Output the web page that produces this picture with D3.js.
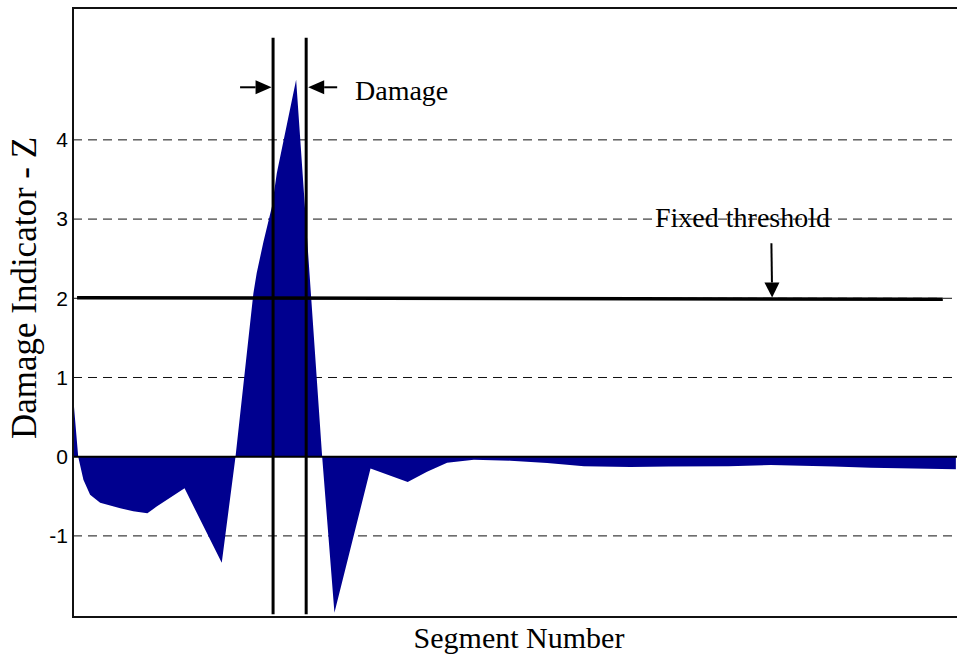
<!DOCTYPE html>
<html>
<head>
<meta charset="utf-8">
<script src="https://cdn.jsdelivr.net/npm/d3@7"></script>
<style>
  html, body { margin: 0; padding: 0; background: #fff; }
  svg { display: block; }
</style>
</head>
<body>
<svg id="chart" width="957" height="658"></svg>
<script>
// Damage indicator Z along the segment number
const segments = [0, 0.14, 0.28, 0.46, 0.73, 1.27, 1.62, 2.00, 2.25, 3.00, 4.00, 4.37,
  4.85, 4.94, 5.12, 5.35, 5.48, 6.00, 6.70, 7.03, 8.00, 9.00, 9.52, 10.06, 10.78,
  11.76, 12.75, 13.74, 14.99, 16.02, 17.63, 18.76, 20.46, 21.45, 23.74];
const zValues = [0.78, 0, -0.29, -0.48, -0.58, -0.65, -0.69, -0.715, -0.63, -0.40, -1.34, 0,
  2.06, 2.32, 2.71, 3.16, 3.58, 4.76, 0, -1.97, -0.15, -0.32, -0.19, -0.076, -0.04,
  -0.05, -0.08, -0.12, -0.13, -0.125, -0.12, -0.105, -0.125, -0.14, -0.16];

const yTicks = [-1, 0, 1, 2, 3, 4];
const yTickLabels = ["-1", "0", "1", "2", "3", "4"];
const gridValues = [-1, 1, 2, 3, 4];

// fixed threshold line (start and end points)
const thresholdSeg = [0.11, 23.39];
const thresholdZ = [2.007, 1.987];

// damaged zone bounds
const damageSeg = [5.38, 6.27];
const damageZ = [5.29, -1.99];

const xLabel = "Segment Number";
const yLabel = "Damage Indicator - Z";
const damageLabel = "Damage";
const thresholdLabel = "Fixed threshold";

const svg = d3.select("#chart");
const plotLeft = 73, plotRight = 956.6, plotTop = 8, plotBottom = 617;

const x = d3.scaleLinear().domain([0, 23.76]).range([plotLeft, plotRight]);
const y = d3.scaleLinear().domain([-2.024, 5.665]).range([plotBottom, plotTop]);

const data = segments.map((s, i) => ({ s, z: zValues[i] }));

// dashed grid
svg.append("g").selectAll("line").data(gridValues).join("line")
  .attr("x1", plotLeft).attr("x2", 957)
  .attr("y1", d => y(d)).attr("y2", d => y(d))
  .attr("stroke", "#111").attr("stroke-width", 1)
  .attr("stroke-dasharray", "9,6");

// filled area between zero and the indicator
const area = d3.area()
  .x(d => x(d.s))
  .y0(y(0))
  .y1(d => y(d.z))
  .curve(d3.curveLinear);

svg.append("path").datum(data)
  .attr("d", area)
  .attr("fill", "#00008f");

// zero line
svg.append("line")
  .attr("x1", plotLeft).attr("x2", 957)
  .attr("y1", y(0)).attr("y2", y(0))
  .attr("stroke", "#000").attr("stroke-width", 2);

// frame
svg.append("path")
  .attr("d", `M957,${plotTop}H${plotLeft}V${plotBottom}H957`)
  .attr("fill", "none").attr("stroke", "#111").attr("stroke-width", 2);

// y axis ticks
const yAxis = d3.axisLeft(y).tickValues(yTicks).tickSize(0).tickPadding(5)
  .tickFormat((d, i) => yTickLabels[i]);
const gy = svg.append("g").attr("transform", `translate(${plotLeft},0)`).call(yAxis);
gy.select(".domain").remove();
gy.selectAll("text")
  .attr("font-family", "Liberation Sans, Arial, sans-serif")
  .attr("font-size", 21).attr("fill", "#000");

// threshold line
svg.append("line")
  .attr("x1", x(thresholdSeg[0])).attr("x2", x(thresholdSeg[1]))
  .attr("y1", y(thresholdZ[0])).attr("y2", y(thresholdZ[1]))
  .attr("stroke", "#000").attr("stroke-width", 3.5);

// damage zone verticals
svg.append("g").selectAll("line").data(damageSeg).join("line")
  .attr("x1", d => x(d)).attr("x2", d => x(d))
  .attr("y1", y(damageZ[0])).attr("y2", y(damageZ[1]))
  .attr("stroke", "#000").attr("stroke-width", 3);

// arrows
function arrow(x1, y1, x2, y2, headLen, headHalf) {
  const ang = Math.atan2(y2 - y1, x2 - x1);
  const bx = x2 - headLen * Math.cos(ang), by = y2 - headLen * Math.sin(ang);
  const px = -Math.sin(ang) * headHalf, py = Math.cos(ang) * headHalf;
  svg.append("line").attr("x1", x1).attr("y1", y1).attr("x2", bx).attr("y2", by)
    .attr("stroke", "#000").attr("stroke-width", 2);
  svg.append("path")
    .attr("d", `M${x2},${y2}L${bx + px},${by + py}L${bx - px},${by - py}Z`)
    .attr("fill", "#000");
}
const arrowY = y(4.664);
arrow(x(damageSeg[0]) - 33, arrowY, x(damageSeg[0]) - 1.5, arrowY, 16, 7);
arrow(x(damageSeg[1]) + 31, arrowY, x(damageSeg[1]) + 2, arrowY, 16, 7);
arrow(x(18.78), y(2.695), x(18.80), y(thresholdZ[0] + (thresholdZ[1] - thresholdZ[0]) * 0.8) - 1.5, 15, 7.5);

// annotation text
const serif = "Liberation Serif, 'Times New Roman', serif";
svg.append("text").attr("x", 355).attr("y", 100)
  .attr("font-family", serif).attr("font-size", 28).text(damageLabel);
svg.append("text").attr("x", 655).attr("y", 227)
  .attr("font-family", serif).attr("font-size", 28).text(thresholdLabel);

// axis titles
svg.append("text")
  .attr("x", 519).attr("y", 648)
  .attr("text-anchor", "middle")
  .attr("font-family", serif).attr("font-size", 30).text(xLabel);
svg.append("text")
  .attr("transform", "translate(36,288) rotate(-90)")
  .attr("text-anchor", "middle")
  .attr("font-family", serif).attr("font-size", 35).text(yLabel);
</script>
</body>
</html>
